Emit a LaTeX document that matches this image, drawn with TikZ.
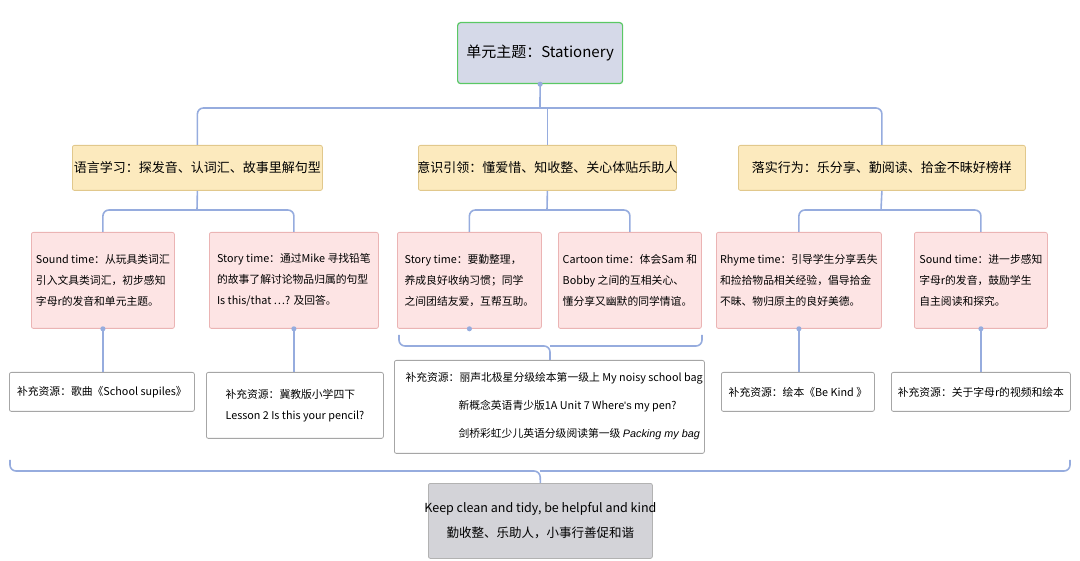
\documentclass[tikz,border=0pt]{standalone}
\usepackage{fontspec}
\setmainfont{Noto Sans CJK SC}
\newfontfamily\latit{Liberation Sans}[ItalicFont=* Italic]
\begin{document}
\begin{tikzpicture}[x=1pt,y=-1pt,
  line/.style={draw={rgb,255:red,150;green,172;blue,222}, line width=1.6pt, rounded corners=6pt},
  base/.style={align=left, anchor=north west, inner sep=0pt, rounded corners=2pt, line width=0.8pt},
  yel/.style={fill={rgb,255:red,252;green,234;blue,190}, draw={rgb,255:red,225;green,200;blue,140}},
  pink/.style={fill={rgb,255:red,253;green,228;blue,228}, draw={rgb,255:red,235;green,180;blue,180}},
  res/.style={fill=white, draw=black!35},
  ct/.style={font=\fontsize{10.8}{21}\selectfont, align=left},
  ht/.style={font=\fontsize{13}{17}\selectfont},
  dot/.style={circle, fill={rgb,255:red,150;green,172;blue,222}, inner sep=1.8pt}]
\useasboundingbox (0,0) rectangle (1080,561);
\newcommand{\bx}[6]{\node[base,#6,minimum width=#3-#1,minimum height=#4-#2] (#5) at (#1,#2) {};}
% root
\node[base, fill={rgb,255:red,213;green,217;blue,232}, draw={rgb,255:red,90;green,200;blue,100}, line width=1.2pt, minimum width=165, minimum height=61, rounded corners=3pt] (root) at (457,22) {};
\node[font=\fontsize{15}{19}\selectfont] at (root.center) {单元主题：Stationery};
% level 2
\bx{72}{145}{322}{190}{L1}{yel}
\node[ht] at (L1.center) {语言学习：探发音、认词汇、故事里解句型};
\bx{418}{145}{676}{190}{L2}{yel}
\node[ht] at (L2.center) {意识引领：懂爱惜、知收整、关心体贴乐助人};
\bx{738}{145}{1025}{190}{L3}{yel}
\node[ht] at (L3.center) {落实行为：乐分享、勤阅读、拾金不昧好榜样};
% children
\bx{31}{232}{174}{328}{C1}{pink}
\bx{209}{232}{378}{328}{C2}{pink}
\bx{397}{232}{541}{328}{C3}{pink}
\bx{558}{232}{701}{328}{C4}{pink}
\bx{716}{232}{881}{328}{C5}{pink}
\bx{914}{232}{1047}{328}{C6}{pink}
\node[ct] at (C1.center) {Sound time：从玩具类词汇\\引入文具类词汇，初步感知\\字母r的发音和单元主题。};
\node[ct] at (C2.center) {Story time：通过Mike 寻找铅笔\\的故事了解讨论物品归属的句型\\Is this/that …? 及回答。};
\node[ct] at (C3.center) {Story time：要勤整理，\\养成良好收纳习惯；同学\\之间团结友爱，互帮互助。};
\node[ct] at (C4.center) {Cartoon time：体会Sam 和\\Bobby 之间的互相关心、\\懂分享又幽默的同学情谊。};
\node[ct] at (C5.center) {Rhyme time：引导学生分享丢失\\和捡拾物品相关经验，倡导拾金\\不昧、物归原主的良好美德。};
\node[ct] at (C6.center) {Sound time：进一步感知\\字母r的发音，鼓励学生\\自主阅读和探究。};
% resources
\bx{9}{372}{194}{411}{R1}{res}
\bx{206}{372}{383}{438}{R2}{res}
\bx{394}{360}{704}{453}{R3}{res}
\bx{721}{372}{874}{411}{R4}{res}
\bx{891}{372}{1070}{411}{R5}{res}
\node[ct] at (R1.center) {补充资源：歌曲《School supiles》};
\node[ct] at (R2.center) {补充资源：冀教版小学四下\\Lesson 2 Is this your pencil?};
\node[ct, anchor=north west] (r3a) at (402,369) {补充资源：丽声北极星分级绘本第一级上 My noisy school bag};
\node[ct, anchor=north west] at (455,397) {新概念英语青少版1A Unit 7 Where{\latit 's} my pen?};
\node[ct, anchor=north west] at (455,425) {剑桥彩虹少儿英语分级阅读第一级 {\latit\itshape Packing my bag}};
\node[ct] at (R4.center) {补充资源：绘本《Be Kind 》};
\node[ct] at (R5.center) {补充资源：关于字母r的视频和绘本};
% bottom
\node[base, fill={rgb,255:red,211;green,211;blue,216}, draw=black!30, minimum width=224, minimum height=75] (B) at (428,483) {};
\node[font=\fontsize{12.5}{25}\selectfont, align=center] at (B.center) {Keep clean and tidy,\ be helpful and kind\\勤收整、乐助人，小事行善促和谐};
% connectors
\coordinate (rj) at (540,108);
\draw[line] (root.south) -- (rj);
\draw[line] (L1.north) |- (rj) -| (L3.north);
\draw[line] (L2.north) -- (L2.north |- rj);
\node[dot] at (root.south) {};
\draw[line] (C1.north) |- (197,210) -| (C2.north);
\draw[line] (L1.south) -- (197,210);
\draw[line] (C3.north) |- (547,210) -| (C4.north);
\draw[line] (L2.south) -- (547,210);
\draw[line] (C5.north) |- (881,210) -| (C6.north);
\draw[line] (L3.south) -- (881,210);
\foreach \c/\r in {C1/R1,C2/R2,C5/R4,C6/R5}{\draw[line] (\c.south) -- (\c.south |- \r.north); \node[dot] at (\c.south) {};}
\node[dot] at (C3.south) {};
\draw[line] (399,335) |- (550,346) -- (550,360) (550,346) -| (702,335);
\draw[line] (10,460) |- (540,471) -- (B.north) (540,471) -| (1070,460);
\end{tikzpicture}
\end{document}
